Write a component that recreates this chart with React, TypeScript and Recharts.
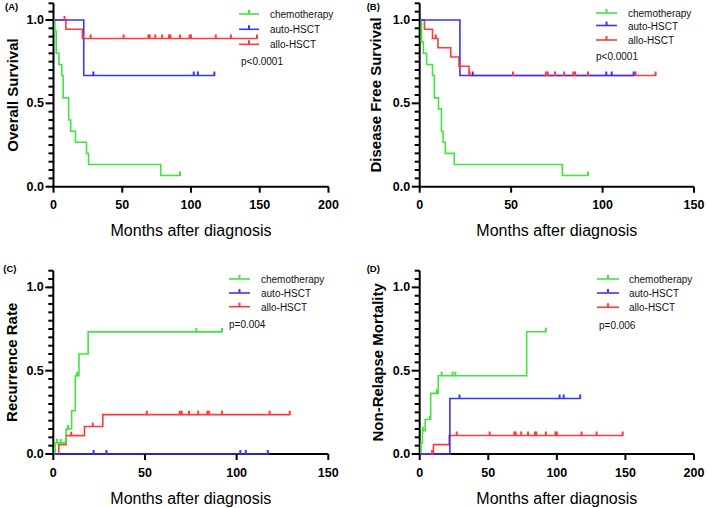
import React from 'react';
import { LineChart, Line, XAxis, YAxis } from 'recharts';

// [months, value, censored(1)]
type Row = [number, number, number];

// ---------- Panel A: Overall Survival ----------
const osChemo: Row[] = [[0,1,0],[1,0.933,0],[2,0.8,0],[4,0.733,0],[6,0.667,0],[7,0.533,0],[11,0.4,0],[12.5,0.333,0],[16,0.267,0],[24,0.2,0],[25.5,0.133,0],[78,0.067,0],[92,0.067,1]];
const osAuto: Row[] = [[0,1,0],[22,0.667,0],[29,0.667,1],[102,0.667,1],[105,0.667,1],[117,0.667,1]];
const osAllo: Row[] = [[0,1,0],[8,1,1],[9,0.944,0],[21,0.889,0],[21.5,0.889,1],[27,0.889,1],[51,0.889,1],[69,0.889,1],[70,0.889,1],[74,0.889,1],[79,0.889,1],[84,0.889,1],[85,0.889,1],[92,0.889,1],[99,0.889,1],[100,0.889,1],[118,0.889,1],[129,0.889,1],[148,0.889,1]];

// ---------- Panel B: Disease Free Survival ----------
const dfsChemo: Row[] = [[0,1,0],[1,0.867,0],[2,0.8,0],[3.8,0.733,0],[7,0.667,0],[8,0.533,0],[10.3,0.467,0],[11.9,0.333,0],[12.8,0.267,0],[14,0.2,0],[18.9,0.133,0],[78,0.067,0],[92,0.067,1]];
const dfsAuto: Row[] = [[0,1,0],[22,0.667,0],[29,0.667,1],[102,0.667,1],[105,0.667,1],[117,0.667,1]];
const dfsAllo: Row[] = [[0,1,0],[2.6,0.944,0],[7,0.889,0],[8.8,0.889,1],[10,0.833,0],[17,0.778,0],[21.5,0.722,0],[22,0.722,1],[27,0.667,0],[27.3,0.667,1],[51,0.667,1],[69,0.667,1],[70,0.667,1],[74,0.667,1],[79,0.667,1],[84,0.667,1],[85,0.667,1],[92,0.667,1],[118,0.667,1],[129,0.667,1]];

// ---------- Panel C: Recurrence Rate ----------
const rrChemo: Row[] = [[0,0,0],[1,0.067,0],[2,0.067,1],[4,0.067,1],[7,0.15,0],[8,0.15,1],[10,0.26,0],[12,0.47,0],[13,0.47,1],[14,0.6,0],[19,0.733,0],[78,0.733,1],[92,0.733,1]];
const rrAuto: Row[] = [[0,0,0],[22,0,1],[29,0,1],[102,0,1],[105,0,1],[117,0,1]];
const rrAllo: Row[] = [[0,0,0],[3,0.056,0],[7,0.11,0],[9.8,0.11,1],[17,0.165,0],[21.5,0.165,1],[27,0.236,0],[51,0.236,1],[69,0.236,1],[70,0.236,1],[74,0.236,1],[79,0.236,1],[84,0.236,1],[85,0.236,1],[92,0.236,1],[118,0.236,1],[129,0.236,1]];

// ---------- Panel D: Non-Relapse Mortality ----------
const nrmChemo: Row[] = [[0,0,0],[1,0.067,0],[2,0.14,0],[2.5,0.14,1],[4,0.207,0],[7.5,0.207,1],[8,0.364,0],[12.5,0.364,1],[13.5,0.47,0],[16,0.47,1],[24,0.47,1],[26,0.47,1],[78,0.734,0],[92,0.734,1]];
const nrmAuto: Row[] = [[0,0,0],[22,0.333,0],[29,0.333,1],[102,0.333,1],[105,0.333,1],[117,0.333,1]];
const nrmAllo: Row[] = [[0,0,0],[9,0,1],[10,0.056,0],[21.5,0.111,0],[27,0.111,1],[51,0.111,1],[69,0.111,1],[70,0.111,1],[74,0.111,1],[79,0.111,1],[84,0.111,1],[85,0.111,1],[92,0.111,1],[99,0.111,1],[100,0.111,1],[118,0.111,1],[129,0.111,1],[148,0.111,1]];

const groups = ['chemotherapy', 'auto-HSCT', 'allo-HSCT'];
const yTicks = [0,0.05,0.1,0.15,0.2,0.25,0.3,0.35,0.4,0.45,0.5,0.55,0.6,0.65,0.7,0.75,0.8,0.85,0.9,0.95,1,1.05,1.1];
const yMajor = [0, 0.5, 1];
const xTicks200 = [0, 50, 100, 150, 200];
const xTicks150 = [0, 50, 100, 150];

const GREEN = '#3fe63f';
const BLUE = '#3535ff';
const RED = '#ff3a3a';
const FONT = '"Liberation Sans", Arial, sans-serif';

const toData = (rows: Row[]) => rows.map(([t, v, c]) => ({ t, v, c }));

const censorDot = (color: string) => (props: any) => {
  const { cx, cy, payload, index } = props;
  if (!payload || !payload.c || cx == null || cy == null) return <g key={`n${index}`} />;
  return <line key={`c${index}`} x1={cx} x2={cx} y1={cy - 4} y2={cy + 0.5} stroke={color} strokeWidth={2} />;
};

// native tick line is 5px long; majors get a 3px extension and a label
const YTick = (props: any) => {
  const { x, y, payload } = props;
  const v = Number(payload.value);
  const major = yMajor.some((m) => Math.abs(m - v) < 1e-6);
  if (!major) return <g />;
  return (
    <g>
      <line x1={x - 3} x2={x + 0.5} y1={y} y2={y} stroke="#000" strokeWidth={2} />
      <text x={x - 4.5} y={y} textAnchor="end" dominantBaseline="central" fontFamily={FONT} fontWeight="bold" fontSize={12.5} fill="#000">
        {v.toFixed(1)}
      </text>
    </g>
  );
};

const XTick = (props: any) => {
  const { x, y, payload } = props;
  return (
    <text x={x} y={y + 12.5} textAnchor="middle" dominantBaseline="central" fontFamily={FONT} fontWeight="bold" fontSize={12.5} fill="#000">
      {payload.value}
    </text>
  );
};

type PanelCfg = {
  letter: string;
  left: number; top: number; w: number; h: number;
  L: number; R: number; T: number; B: number;
  xMax: number; xTicks: number[];
  yTitle: string; yTitleX: number;
  p: string;
  lx1: number; lx2: number; tx: number; ly: number[]; px: number; py: number;
  labX: number; labY: number;
  chemo: Row[]; auto: Row[]; allo: Row[];
};

const panels: PanelCfg[] = [
  { letter: '(A)', left: 0, top: 0, w: 354, h: 254, L: 53.5, R: 328.5, T: 3.3, B: 186.7, xMax: 200, xTicks: xTicks200,
    yTitle: 'Overall Survival', yTitleX: 12, p: 'p<0.0001', lx1: 239, lx2: 259, tx: 270, ly: [14, 29.3, 44.3], px: 241, py: 61.7, labX: 5, labY: 6,
    chemo: osChemo, auto: osAuto, allo: osAllo },
  { letter: '(B)', left: 354, top: 0, w: 355, h: 254, L: 65.7, R: 340, T: 3.3, B: 186.7, xMax: 150, xTicks: xTicks150,
    yTitle: 'Disease Free Survival', yTitleX: 21.7, p: 'p<0.0001', lx1: 242, lx2: 263, tx: 274, ly: [13, 25.5, 40], px: 242, py: 56, labX: 12.7, labY: 6,
    chemo: dfsChemo, auto: dfsAuto, allo: dfsAllo },
  { letter: '(C)', left: 0, top: 254, w: 354, h: 254, L: 53.3, R: 328.3, T: 16.7, B: 200, xMax: 150, xTicks: xTicks150,
    yTitle: 'Recurrence Rate', yTitleX: 11.7, p: 'p=0.004', lx1: 229, lx2: 250, tx: 261, ly: [25, 39, 52.7], px: 229, py: 70.7, labX: 3.3, labY: 14,
    chemo: rrChemo, auto: rrAuto, allo: rrAllo },
  { letter: '(D)', left: 354, top: 254, w: 355, h: 254, L: 65.7, R: 340, T: 16.7, B: 200, xMax: 200, xTicks: xTicks200,
    yTitle: 'Non-Relapse Mortality', yTitleX: 23.3, p: 'p=0.006', lx1: 243, lx2: 265, tx: 275, ly: [25, 39, 53.3], px: 245, py: 71, labX: 12.7, labY: 14,
    chemo: nrmChemo, auto: nrmAuto, allo: nrmAllo },
];

const colors = [GREEN, BLUE, RED];

function Panel({ c }: { c: PanelCfg }) {
  const plotMidY = (c.T + c.B) / 2;
  return (
    <div style={{ position: 'absolute', left: c.left, top: c.top, width: c.w, height: c.h }}>
      {/* axis lines underneath the curves */}
      <svg width={c.w} height={c.h} style={{ position: 'absolute', left: 0, top: 0 }}>
        <line x1={c.L} x2={c.L} y1={c.T} y2={c.B + 1} stroke="#000" strokeWidth={2} />
        <line x1={c.L - 1} x2={c.R} y1={c.B} y2={c.B} stroke="#000" strokeWidth={2} />
      </svg>
      <div style={{ position: 'absolute', left: 0, top: 0 }}>
        <LineChart width={c.w} height={c.h} margin={{ top: c.T, right: c.w - c.R, bottom: 0, left: 0 }}>
          <XAxis dataKey="t" type="number" domain={[0, c.xMax]} ticks={c.xTicks}
            height={c.h - c.B} tickSize={6} tickMargin={0}
            tickLine={{ stroke: '#000', strokeWidth: 2 }}
            axisLine={false} tick={<XTick />} interval={0} />
          <YAxis type="number" domain={[0, 1.1]} ticks={yTicks} width={c.L}
            tickSize={5} tickMargin={0} interval={0}
            tickLine={{ stroke: '#000', strokeWidth: 2 }}
            axisLine={false} tick={<YTick />} />
          <Line data={toData(c.allo)} dataKey="v" type="stepAfter" stroke={RED} strokeWidth={1.6}
            dot={censorDot(RED)} activeDot={false} isAnimationActive={false} />
          <Line data={toData(c.chemo)} dataKey="v" type="stepAfter" stroke={GREEN} strokeWidth={1.6}
            dot={censorDot(GREEN)} activeDot={false} isAnimationActive={false} />
          <Line data={toData(c.auto)} dataKey="v" type="stepAfter" stroke={BLUE} strokeWidth={1.6}
            dot={censorDot(BLUE)} activeDot={false} isAnimationActive={false} />
        </LineChart>
      </div>
      <svg width={c.w} height={c.h} style={{ position: 'absolute', left: 0, top: 0, pointerEvents: 'none' }}>
        <text x={c.labX} y={c.labY} dominantBaseline="central" fontFamily={FONT} fontWeight="bold" fontSize={9.5} fill="#000">{c.letter}</text>
        <text x={c.yTitleX} y={plotMidY} transform={`rotate(-90 ${c.yTitleX} ${plotMidY})`} textAnchor="middle" dominantBaseline="central"
          fontFamily={FONT} fontWeight="bold" fontSize={15} fill="#000">{c.yTitle}</text>
        <text x={(c.L + c.R) / 2} y={c.B + 44} textAnchor="middle" dominantBaseline="central" fontFamily={FONT} fontSize={16} fill="#000">
          Months after diagnosis
        </text>
        {groups.map((g, i) => (
          <g key={g}>
            <line x1={c.lx1} x2={c.lx2} y1={c.ly[i]} y2={c.ly[i]} stroke={colors[i]} strokeWidth={1.6} />
            <line x1={(c.lx1 + c.lx2) / 2} x2={(c.lx1 + c.lx2) / 2} y1={c.ly[i] - 4} y2={c.ly[i]} stroke={colors[i]} strokeWidth={2} />
            <text x={c.tx} y={c.ly[i] + 0.5} dominantBaseline="central" fontFamily={FONT} fontSize={10} fill="#111">{g}</text>
          </g>
        ))}
        <text x={c.px} y={c.py} dominantBaseline="central" fontFamily={FONT} fontSize={10} fill="#111">{c.p}</text>
      </svg>
    </div>
  );
}

export default function App() {
  return (
    <div style={{ position: 'absolute', left: 0, top: 0, width: 709, height: 508, background: '#fff' }}>
      {panels.map((c) => (
        <Panel key={c.letter} c={c} />
      ))}
    </div>
  );
}
